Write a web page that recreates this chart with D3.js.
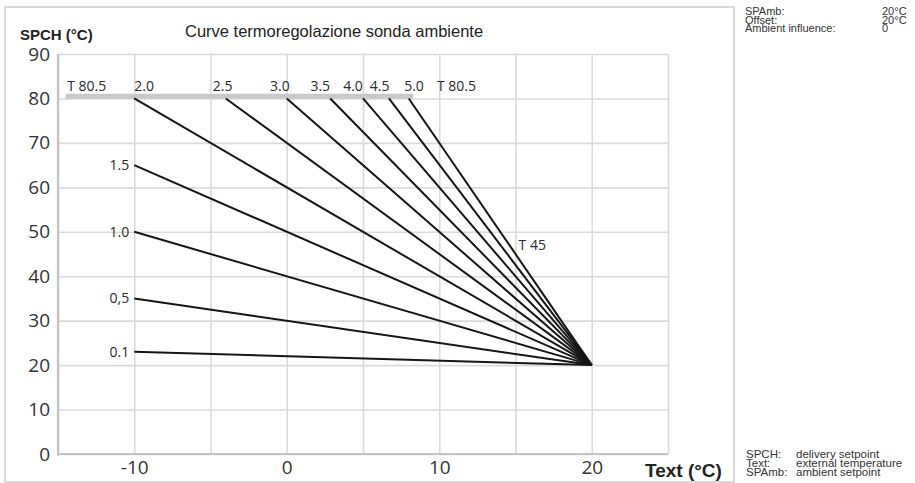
<!DOCTYPE html>
<html>
<head>
<meta charset="utf-8">
<script src="https://cdn.jsdelivr.net/npm/d3@7"></script>
<style>
  body { margin: 0; background: #fff; }
  svg { display: block; }
  .grid line { stroke: #dadada; stroke-width: 1.6; }
  .grid .domain { display: none; }
  .tick text { font-family: "Open Sans", sans-serif; font-size: 19px; fill: #333; }
</style>
</head>
<body>
<svg width="915" height="483"></svg>
<script>
// heating curves: name, start point (Text, SPCH), all meet at the pivot
var curveNames  = ["0.1", "0,5", "1.0", "1.5", "2.0", "2.5", "3.0", "3.5", "4.0", "4.5", "5.0"]
var startText   = [-10, -10, -10, -10, -10, -4, 0, 2.85, 5, 6.7, 8]
var startSpch   = [23, 35, 50, 65, 80, 80, 80, 80, 80, 80, 80]
var pivot       = [20, 20]

// label placement (data units) for curves that start on the T 80.5 limit
var topLabels   = ["T 80.5", "2.0", "2.5", "3.0", "3.5", "4.0", "4.5", "5.0", "T 80.5"]
var topLabelX   = [-14.4, -10, -4.85, -1.1, 1.55, 3.7, 5.45, 7.7, 9.85]
var limitLine   = [-14.5, 8.3, 80.5]
var t45Label    = ["T 45", 15.2, 47]

var xTicks = [-10, 0, 10, 20]
var yTicks = [0, 10, 20, 30, 40, 50, 60, 70, 80, 90]
var xGrid  = [-15, -10, -5, 0, 5, 10, 15, 20, 25]

var infoTop    = [["SPAmb:", "20°C"], ["Offset:", "20°C"], ["Ambient influence:", "0"]]
var infoBottom = [["SPCH:", "delivery setpoint"], ["Text:", "external temperature"], ["SPAmb:", "ambient setpoint"]]

var svg = d3.select("svg")

// outer frame
svg.append("rect")
    .attr("x", 5).attr("y", 7).attr("width", 729).attr("height", 475)
    .attr("fill", "none").attr("stroke", "#d0d0d0").attr("stroke-width", 1.6)

var x = d3.scaleLinear().domain([-15, 25]).range([58, 668])
var y = d3.scaleLinear().domain([0, 90]).range([454, 54])

// grid
svg.append("g")
    .attr("class", "grid")
    .attr("transform", "translate(0,54)")
    .call(d3.axisBottom(x).tickValues(xGrid).tickSize(400).tickFormat(""))
svg.append("g")
    .attr("class", "grid")
    .attr("transform", "translate(58,0)")
    .call(d3.axisRight(y).tickValues(yTicks).tickSize(610).tickFormat(""))

// axes lines
svg.append("line")
    .attr("x1", x(-15)).attr("x2", x(-15)).attr("y1", y(90)).attr("y2", y(0) + 2)
    .attr("stroke", "#c4c4c4").attr("stroke-width", 2.2)
svg.append("line")
    .attr("x1", x(-15)).attr("x2", x(25)).attr("y1", y(0)).attr("y2", y(0))
    .attr("stroke", "#c4c4c4").attr("stroke-width", 2.2)

// tick labels
var yAxis = svg.append("g")
    .attr("transform", "translate(58,0)")
    .call(d3.axisLeft(y).tickValues(yTicks).tickSize(0).tickPadding(8).tickFormat(String))
yAxis.select(".domain").remove()

var xAxis = svg.append("g")
    .attr("transform", "translate(0,454)")
    .call(d3.axisBottom(x).tickValues(xTicks).tickSize(0).tickPadding(6).tickFormat(String))
xAxis.select(".domain").remove()

// T 80.5 limit band
svg.append("line")
    .attr("x1", x(limitLine[0])).attr("x2", x(limitLine[1]))
    .attr("y1", y(limitLine[2])).attr("y2", y(limitLine[2]))
    .attr("stroke", "#c8c8c8").attr("stroke-width", 5)

// curves
var curves = curveNames.map(function(n, i){
    return { name: n, pts: [[startText[i], startSpch[i]], pivot] }
})
var line = d3.line().x(function(d){ return x(d[0]) }).y(function(d){ return y(d[1]) })

svg.append("g").selectAll("path")
    .data(curves)
    .enter().append("path")
    .attr("d", function(d){ return line(d.pts) })
    .attr("fill", "none")
    .attr("stroke", "#151515")
    .attr("stroke-width", 2)

// labels
var lblFont = "'Open Sans', sans-serif"
svg.append("g").selectAll("text")
    .data(curves.filter(function(d, i){ return startText[i] == -10 && startSpch[i] < 80 }))
    .enter().append("text")
    .attr("x", function(d){ return x(d.pts[0][0]) - 5 })
    .attr("y", function(d){ return y(d.pts[0][1]) })
    .attr("dy", "0.35em")
    .attr("text-anchor", "end")
    .attr("font-family", lblFont).attr("font-size", 14).attr("fill", "#2a2a2a")
    .text(function(d){ return d.name })

svg.append("g").selectAll("text")
    .data(topLabels)
    .enter().append("text")
    .attr("x", function(d, i){ return x(topLabelX[i]) })
    .attr("y", 91)
    .attr("font-family", lblFont).attr("font-size", 14).attr("fill", "#2a2a2a")
    .text(function(d){ return d })

svg.append("text")
    .attr("x", x(t45Label[1])).attr("y", y(t45Label[2]))
    .attr("dy", "0.35em")
    .attr("font-family", lblFont).attr("font-size", 14).attr("fill", "#2a2a2a")
    .text(t45Label[0])

// titles
svg.append("text")
    .attr("x", 20).attr("y", 40)
    .attr("font-family", "'Liberation Sans', Arial, sans-serif")
    .attr("font-size", 15).attr("font-weight", "bold").attr("fill", "#222")
    .text("SPCH (°C)")
svg.append("text")
    .attr("x", 185).attr("y", 37)
    .attr("font-family", "'Liberation Sans', Arial, sans-serif")
    .attr("font-size", 16.5).attr("fill", "#222")
    .text("Curve termoregolazione sonda ambiente")
svg.append("text")
    .attr("x", 645).attr("y", 477)
    .attr("font-family", "'Liberation Sans', Arial, sans-serif")
    .attr("font-size", 19).attr("font-weight", "bold").attr("fill", "#222")
    .text("Text (°C)")

// side notes
var notesTop = svg.append("g")
    .attr("font-family", "'Liberation Sans', Arial, sans-serif")
    .attr("font-size", 11).attr("fill", "#333")
infoTop.forEach(function(r, i){
    notesTop.append("text").attr("x", 745).attr("y", 15 + i * 8.6).text(r[0])
    notesTop.append("text").attr("x", 882).attr("y", 15 + i * 8.6).text(r[1])
})
var notesBot = svg.append("g")
    .attr("font-family", "'Liberation Sans', Arial, sans-serif")
    .attr("font-size", 11.5).attr("fill", "#333")
infoBottom.forEach(function(r, i){
    notesBot.append("text").attr("x", 746).attr("y", 458 + i * 8.8).text(r[0])
    notesBot.append("text").attr("x", 796).attr("y", 458 + i * 8.8).text(r[1])
})
</script>
</body>
</html>
